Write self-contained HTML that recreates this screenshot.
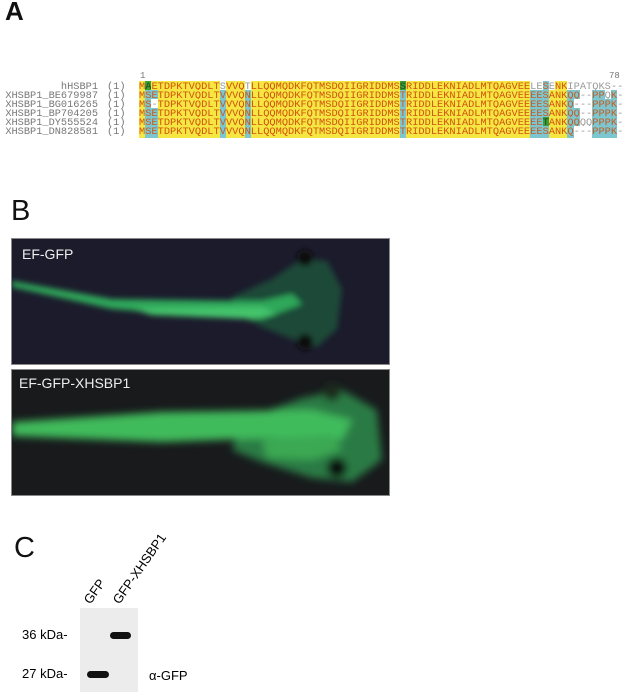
<!DOCTYPE html>
<html><head><style>
body{margin:0;width:626px;height:694px;background:#fff;position:relative;overflow:hidden;font-family:"Liberation Sans",sans-serif}
.L{position:absolute;font-size:27px;color:#111}
.seq{position:absolute;left:139px;font-family:"Liberation Mono",monospace;font-size:10.35px;line-height:9px;height:9px;white-space:pre;letter-spacing:0}
.lab{position:absolute;right:528px;font-family:"Liberation Mono",monospace;font-size:10.3px;line-height:9px;color:#777;white-space:pre}
.n{position:absolute;left:107px;font-family:"Liberation Mono",monospace;font-size:10.3px;line-height:9px;color:#777}
.y{background:#f5e642;color:#d0520e}
.b{background:#7cc6cf;color:#c85a20}
.g{background:#3f9e3c;color:#1e4a1a}
.w{background:#fff;color:#999}
.img{position:absolute;left:11px;width:377px;border:1px solid #888;overflow:hidden}
.cap{position:absolute;color:#eee;font-size:14px}
</style></head><body>
<div class="L" style="left:5px;top:-4px;font-weight:bold;font-size:26px">A</div>
<div style="position:absolute;left:140px;top:71px;font-family:'Liberation Mono',monospace;font-size:9px;color:#777">1</div>
<div style="position:absolute;left:609px;top:71px;font-family:'Liberation Mono',monospace;font-size:9px;color:#777">78</div>

<div class="lab" style="top:83px">hHSBP1</div><div class="n" style="top:83px">(1)</div>
<div class="seq" style="top:83px"><span class="y">M</span><span class="g">A</span><span class="y">ETDPKTVQDLT</span><span class="w">S</span><span class="y">VVQ</span><span class="w">T</span><span class="y">LLQQMQDKFQTMSDQIIGRIDDMS</span><span class="g">S</span><span class="y">RIDDLEKNIADLMTQAGVEE</span><span class="w">LE</span><span class="b">S</span><span class="w">E</span><span class="y">NK</span><span class="w">IPATQKS--</span></div>

<div class="lab" style="top:92px">XHSBP1_BE679987</div><div class="n" style="top:92px">(1)</div>
<div class="seq" style="top:92px"><span class="y">M</span><span class="b">SE</span><span class="y">TDPKTVQDLT</span><span class="b">V</span><span class="y">VVQ</span><span class="b">N</span><span class="y">LLQQMQDKFQTMSDQIIGRIDDMS</span><span class="b">T</span><span class="y">RIDDLEKNIADLMTQAGVEE</span><span class="b">EES</span><span class="y">ANK</span><span class="b">QQ</span><span class="w">--</span><span class="b">PP</span><span class="w">Q</span><span class="b">K</span><span class="w">-</span></div>

<div class="lab" style="top:101px">XHSBP1_BG016265</div><div class="n" style="top:101px">(1)</div>
<div class="seq" style="top:101px"><span class="y">M</span><span class="b">S</span><span class="w">-</span><span class="y">TDPKTVQDLT</span><span class="b">V</span><span class="y">VVQ</span><span class="b">N</span><span class="y">LLQQMQDKFQTMSDQIIGRIDDMS</span><span class="b">T</span><span class="y">RIDDLEKNIADLMTQAGVEE</span><span class="b">EES</span><span class="y">ANK</span><span class="b">Q</span><span class="w">---</span><span class="b">PPPK</span><span class="w">-</span></div>

<div class="lab" style="top:110px">XHSBP1_BP704205</div><div class="n" style="top:110px">(1)</div>
<div class="seq" style="top:110px"><span class="y">M</span><span class="b">SE</span><span class="y">TDPKTVQDLT</span><span class="b">V</span><span class="y">VVQ</span><span class="b">N</span><span class="y">LLQQMQDKFQTMSDQIIGRIDDMS</span><span class="b">T</span><span class="y">RIDDLEKNIADLMTQAGVEE</span><span class="b">EES</span><span class="y">ANK</span><span class="b">QQ</span><span class="w">--</span><span class="b">PPPK</span><span class="w">-</span></div>

<div class="lab" style="top:119px">XHSBP1_DY555524</div><div class="n" style="top:119px">(1)</div>
<div class="seq" style="top:119px"><span class="y">M</span><span class="b">SE</span><span class="y">TDPKTVQDLT</span><span class="b">V</span><span class="y">VVQ</span><span class="b">N</span><span class="y">LLQQMQDKFQTMSDQIIGRIDDMS</span><span class="b">T</span><span class="y">RIDDLEKNIADLMTQAGVEE</span><span class="b">EE</span><span class="g">T</span><span class="y">ANK</span><span class="b">QQ</span><span class="w">QQ</span><span class="b">PPPK</span><span class="w">-</span></div>

<div class="lab" style="top:128px">XHSBP1_DN828581</div><div class="n" style="top:128px">(1)</div>
<div class="seq" style="top:128px"><span class="y">M</span><span class="b">SE</span><span class="y">TDPKTVQDLT</span><span class="b">V</span><span class="y">VVQ</span><span class="b">N</span><span class="y">LLQQMQDKFQTMSDQIIGRIDDMS</span><span class="b">T</span><span class="y">RIDDLEKNIADLMTQAGVEE</span><span class="b">EES</span><span class="y">ANK</span><span class="b">Q</span><span class="w">---</span><span class="b">PPPK</span><span class="w">-</span></div>

<div class="L" style="left:11px;top:195px;font-size:29px">B</div>
<div class="img" style="top:238px;height:125px;background:#1c1b2c">
<svg width="377" height="125" style="position:absolute;left:0;top:0">
<defs><filter id="f1"><feGaussianBlur stdDeviation="3"/></filter></defs>
<g filter="url(#f1)">
<path d="M220 58 L260 40 L290 20 L315 22 L330 50 L325 90 L305 108 L280 100 L250 88 L225 75Z" fill="#1e4a38"/>
<path d="M0 42 L100 60 L250 62 L280 55 L290 65 L250 80 L200 78 L100 70 L0 48Z" fill="#2fa85a"/>
<path d="M120 70 L250 68 L265 75 L240 80 L140 76Z" fill="#45c46c"/>
<circle cx="293" cy="19" r="8" fill="#111"/><circle cx="293" cy="103" r="8" fill="#111"/>
</g></svg>
<div class="cap" style="left:10px;top:7px">EF-GFP</div></div>
<div class="img" style="top:369px;height:125px;background:#181a1c">
<svg width="377" height="125" style="position:absolute;left:0;top:0">
<defs><filter id="f2"><feGaussianBlur stdDeviation="4"/></filter></defs>
<g filter="url(#f2)">
<path d="M230 50 L290 28 L330 20 L365 40 L370 90 L340 112 L300 108 L250 92 L220 80Z" fill="#2a7a45"/>
<path d="M0 52 L150 42 L300 40 L340 50 L330 70 L260 68 L150 72 L0 66Z" fill="#3fbb5c"/>
<path d="M250 70 L320 65 L330 80 L300 90 L255 88Z" fill="#3aa852"/>
<circle cx="320" cy="22" r="9" fill="#1a2a1c"/><circle cx="325" cy="98" r="10" fill="#111"/>
</g></svg>
<div class="cap" style="left:7px;top:5px">EF-GFP-XHSBP1</div></div>

<div class="L" style="left:14px;top:532px;font-size:29px">C</div>
<div style="position:absolute;left:92px;top:593px;transform:rotate(-55deg);transform-origin:0 100%;font-size:13px;line-height:13px">GFP</div>
<div style="position:absolute;left:121px;top:593px;transform:rotate(-55deg);transform-origin:0 100%;font-size:13px;line-height:13px;white-space:nowrap">GFP-XHSBP1</div>
<div style="position:absolute;left:80px;top:608px;width:58px;height:84px;background:#ececec"></div>
<div style="position:absolute;left:110px;top:632px;width:21px;height:7px;border-radius:4px;background:#111"></div>
<div style="position:absolute;left:87px;top:671px;width:22px;height:7px;border-radius:4px;background:#111"></div>
<div style="position:absolute;left:22px;top:627px;font-size:13px">36 kDa-</div>
<div style="position:absolute;left:22px;top:666px;font-size:13px">27 kDa-</div>
<div style="position:absolute;left:149px;top:668px;font-size:13px">α-GFP</div>
</body></html>
